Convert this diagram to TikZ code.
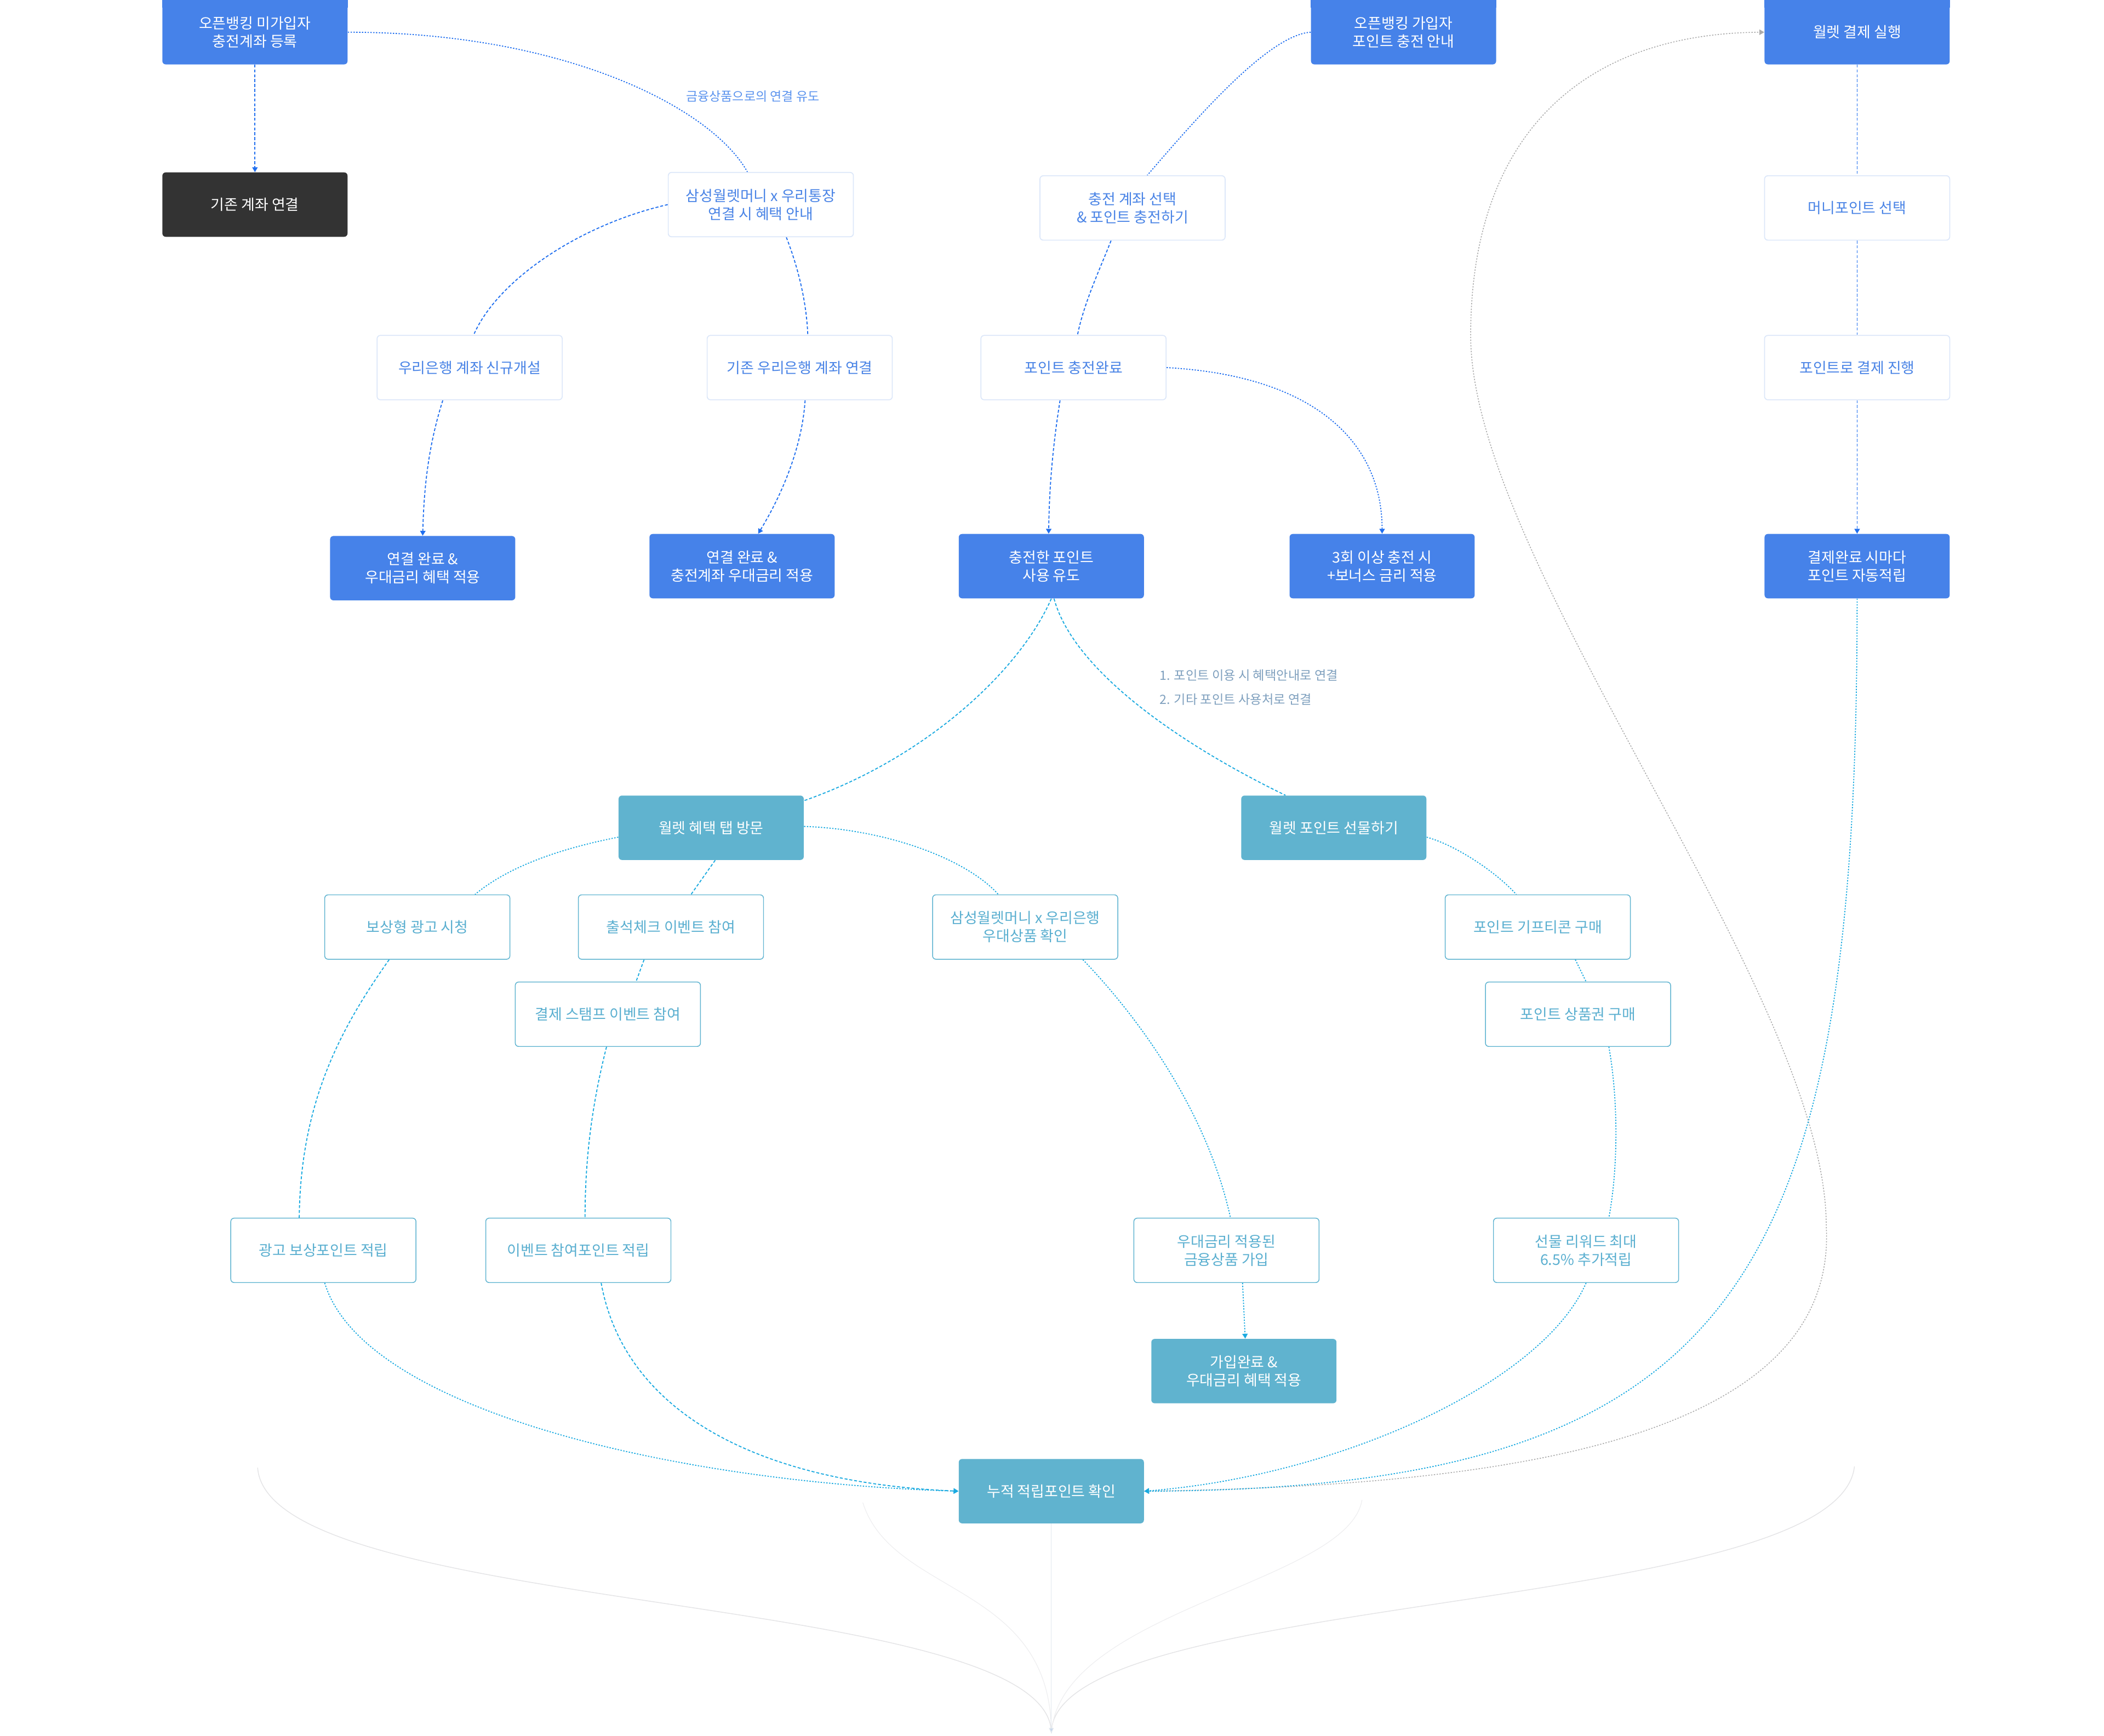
\documentclass[tikz,border=0pt]{standalone}
\usepackage{fontspec}
\setmainfont{Noto Sans CJK KR}
\usetikzlibrary{arrows.meta,calc}
\pgfdeclarelayer{bg}
\pgfsetlayers{bg,main}
\definecolor{cBlue}{HTML}{4682E9}
\definecolor{cDark}{HTML}{333333}
\definecolor{cTeal}{HTML}{60B3CF}
\definecolor{cWB}{HTML}{DCE7F9}
\definecolor{cWT}{HTML}{4A84E6}
\definecolor{cTB}{HTML}{5EB3D0}
\definecolor{cTT}{HTML}{5AAFD0}
\definecolor{cLineB}{HTML}{1F6EEF}
\definecolor{cLineT}{HTML}{1AAAE0}
\definecolor{cLab}{HTML}{5B93EE}
\definecolor{cGrayLab}{HTML}{7FA0BE}
\definecolor{cLoop}{HTML}{ABABAB}
\definecolor{cFan}{HTML}{E4E4E6}
\definecolor{cFanF}{HTML}{EEEEF0}
\definecolor{cFanV}{HTML}{E2E8EF}
\definecolor{cFanA}{HTML}{C6D7EC}
\tikzset{
  box/.style={rectangle, rounded corners=2.5pt, minimum width=138pt, minimum height=48pt,
    inner sep=0pt, align=center, font=\fontsize{11pt}{13.5pt}\selectfont},
  bluebox/.style={box, fill=cBlue, text=white},
  darkbox/.style={box, fill=cDark, text=white},
  tealbox/.style={box, fill=cTeal, text=white},
  wbox/.style={box, fill=white, draw=cWB, line width=0.7pt, text=cWT},
  tbox/.style={box, fill=white, draw=cTB, line width=0.6pt, text=cTT},
  bl/.style={draw=cLineB, line width=0.75pt},
  tl/.style={draw=cLineT, line width=0.75pt},
  dsh/.style={dash pattern=on 2.2pt off 1.4pt},
  dtt/.style={dash pattern=on 1pt off 1.1pt},
  arr/.style={-{Triangle[length=3.6pt,width=4pt]}},
  lab/.style={inner sep=0pt, text=cLab, font=\fontsize{9.4pt}{11pt}\selectfont},
  glab/.style={inner sep=0pt, anchor=west, text=cGrayLab, font=\fontsize{9.5pt}{11pt}\selectfont},
  fanc/.style={draw=cFan, line width=0.6pt},
  fanf/.style={draw=cFanF, line width=0.5pt},
}
\begin{document}
\begin{tikzpicture}[x=1pt,y=-1pt]
\useasboundingbox (0,0) rectangle (1568,1293.6);

% top row
\node[bluebox] (A1) at (190,24) {오픈뱅킹 미가입자\\충전계좌 등록};
\node[bluebox] (A2) at (1046,24) {오픈뱅킹 가입자\\포인트 충전 안내};
\node[bluebox] (A3) at (1384,24) {월렛 결제 실행};
\begin{pgfonlayer}{bg}
\fill[cBlue] ([yshift=1pt]A1.north west) rectangle ([yshift=-6pt]A1.north east);
\fill[cBlue] ([yshift=1pt]A2.north west) rectangle ([yshift=-6pt]A2.north east);
\fill[cBlue] ([yshift=1pt]A3.north west) rectangle ([yshift=-6pt]A3.north east);
\end{pgfonlayer}

\node[darkbox] (B1) at (190,152.5) {기존 계좌 연결};
\node[wbox] (S1) at (567,152.5) {삼성월렛머니 x 우리통장\\연결 시 혜택 안내};
\node[wbox] (C1) at (844,155) {충전 계좌 선택\\\& 포인트 충전하기};
\node[wbox] (M1) at (1384,155) {머니포인트 선택};

\node[wbox] (N1) at (350,274) {우리은행 계좌 신규개설};
\node[wbox] (N2) at (596,274) {기존 우리은행 계좌 연결};
\node[wbox] (P1) at (800,274) {포인트 충전완료};
\node[wbox] (M2) at (1384,274) {포인트로 결제 진행};

\node[bluebox] (R1) at (315,423.5) {연결 완료 \&\\우대금리 혜택 적용};
\node[bluebox] (R2) at (553,422) {연결 완료 \&\\충전계좌 우대금리 적용};
\node[bluebox] (R3) at (783.5,422) {충전한 포인트\\사용 유도};
\node[bluebox] (R4) at (1030,422) {3회 이상 충전 시\\+보너스 금리 적용};
\node[bluebox] (R5) at (1384,422) {결제완료 시마다\\포인트 자동적립};

\node[tealbox] (T1) at (530,617) {월렛 혜택 탭 방문};
\node[tealbox] (T2) at (994,617) {월렛 포인트 선물하기};

\node[tbox] (U1) at (311,691) {보상형 광고 시청};
\node[tbox] (U2) at (500,691) {출석체크 이벤트 참여};
\node[tbox] (U3) at (764,691) {삼성월렛머니 x 우리은행\\우대상품 확인};
\node[tbox] (U4) at (1146,691) {포인트 기프티콘 구매};

\node[tbox] (V1) at (453,756) {결제 스탬프 이벤트 참여};
\node[tbox] (V2) at (1176,756) {포인트 상품권 구매};

\node[tbox] (W1) at (241,932) {광고 보상포인트 적립};
\node[tbox] (W2) at (431,932) {이벤트 참여포인트 적립};
\node[tbox] (W3) at (914,932) {우대금리 적용된\\금융상품 가입};
\node[tbox] (W4) at (1182,932) {선물 리워드 최대\\6.5\% 추가적립};

\node[tealbox] (X1) at (927,1022) {가입완료 \&\\우대금리 혜택 적용};
\node[tealbox] (Z) at (783.5,1111.5) {누적 적립포인트 확인};

% labels
\node[lab] (L1) at (561,72) {금융상품으로의 연결 유도};
\node[glab] (L2) at (864,503.5) {1. 포인트 이용 시 혜택안내로 연결};
\node[glab] (L3) at (864,521.5) {2. 기타 포인트 사용처로 연결};

\coordinate (F) at (783.5,1292);
\coordinate (fa) at (192,1094);
\coordinate (fb) at (643,1120);
\coordinate (fc) at (1015,1118);
\coordinate (fd) at (1382,1093);

\begin{pgfonlayer}{bg}
% bottom fan
\draw[fanc] (fa) .. controls (200,1205) and (783.5,1185) .. (F);
\draw[fanc] (fd) .. controls (1370,1205) and (783.5,1185) .. (F);
\draw[fanf] (fb) .. controls (665,1190) and (783.5,1180) .. (F);
\draw[fanf] (fc) .. controls (1005,1180) and (790,1200) .. (F);
\draw[draw=cFanV, line width=0.5pt, -{Triangle[length=4pt,width=3.6pt,fill=cFanA]}] (Z.south) -- (F);

% blue connectors
\draw[bl,dsh,arr] (A1.south) -- (B1.north);
\draw[bl,dtt] (A1.east) .. controls (420,24) and (530,80) .. ([xshift=-10pt]S1.north);
\draw[bl,dsh] (S1.west) .. controls (430,168) and (370,210) .. ([xshift=3pt]N1.north);
\draw[bl,dsh] ([xshift=19pt]S1.south) .. controls (595,200) and (601,225) .. ([xshift=6pt]N2.north);
\draw[bl,dsh,arr] ([xshift=-20pt]N1.south) .. controls (320,330) and (316,360) .. (R1.north);
\draw[bl,dsh,arr] ([xshift=4pt]N2.south) .. controls (598,330) and (585,365) .. ([xshift=12pt]R2.north);
\draw[bl,dtt] (A2.west) .. controls (945,26) and (890,90) .. ([xshift=11pt]C1.north);
\draw[bl,dsh] ([xshift=-16pt]C1.south) .. controls (820,200) and (808,225) .. ([xshift=3pt]P1.north);
\draw[bl,dsh,arr] ([xshift=-10pt]P1.south) .. controls (785,330) and (782,360) .. ([xshift=-2pt]R3.north);
\draw[bl,dtt,arr] (P1.east) .. controls (980,280) and (1030,330) .. (R4.north);
\draw[bl,dsh] (A3.south) -- (M1.north);
\draw[bl,dsh] (M1.south) -- (M2.north);
\draw[bl,dsh,arr] (M2.south) -- (R5.north);

% gray loop
\draw[draw=cLoop, line width=0.65pt, dtt, -{Triangle[length=3.6pt,width=4pt]}] (Z.east)
  .. controls (1100,1108) and (1370,1080) .. (1361,914)
  .. controls (1361,740) and (1096,420) .. (1096,250)
  .. controls (1096,100) and (1180,25) .. (A3.west);

% teal connectors
\draw[tl,dsh] (R3.south) .. controls (760,500) and (690,565) .. ([yshift=-4pt]T1.north east);
\draw[tl,dsh] ([xshift=2pt]R3.south) .. controls (800,500) and (880,555) .. ([xshift=-36pt]T2.north);
\draw[tl,dtt] ([yshift=-7pt]T1.west) .. controls (420,632) and (380,645) .. ([xshift=43pt]U1.north);
\draw[tl,dsh] ([xshift=3pt]T1.south) -- ([xshift=15pt]U2.north);
\draw[tl,dtt] ([yshift=1pt]T1.east) .. controls (660,618) and (720,640) .. ([xshift=-20pt]U3.north);
\draw[tl,dsh] ([xshift=-20pt]U2.south) -- ([xshift=21pt]V1.north);
\draw[tl,dsh] ([xshift=-21pt]U1.south) .. controls (255,765) and (224,820) .. ([xshift=-18pt]W1.north);
\draw[tl,dsh] ([xshift=-1pt]V1.south) .. controls (442,820) and (436,860) .. ([xshift=5pt]W2.north);
\draw[tl,dtt] ([xshift=43pt]U3.south) .. controls (850,760) and (900,830) .. ([xshift=3pt]W3.north);
\draw[tl,dtt,arr] ([xshift=12pt]W3.south) -- ([xshift=1pt]X1.north);
\draw[tl,dtt] ([yshift=-7pt]T2.east) .. controls (1085,630) and (1115,650) .. ([xshift=-16pt]U4.north);
\draw[tl,dtt] ([xshift=28pt]U4.south) -- ([xshift=6pt]V2.north);
\draw[tl,dtt] ([xshift=23pt]V2.south) .. controls (1206,820) and (1206,870) .. ([xshift=17pt]W4.north);
\draw[tl,dtt,arr] (W4.south) .. controls (1150,1030) and (1000,1100) .. (Z.east);
\draw[tl,dtt,arr] (R5.south) .. controls (1384,950) and (1300,1110) .. (Z.east);
\draw[tl,dtt,arr] ([xshift=1pt]W1.south) .. controls (270,1050) and (500,1105) .. (Z.west);
\draw[tl,dsh,arr] ([xshift=17pt]W2.south) .. controls (465,1050) and (560,1105) .. (Z.west);
\end{pgfonlayer}
\end{tikzpicture}
\end{document}
